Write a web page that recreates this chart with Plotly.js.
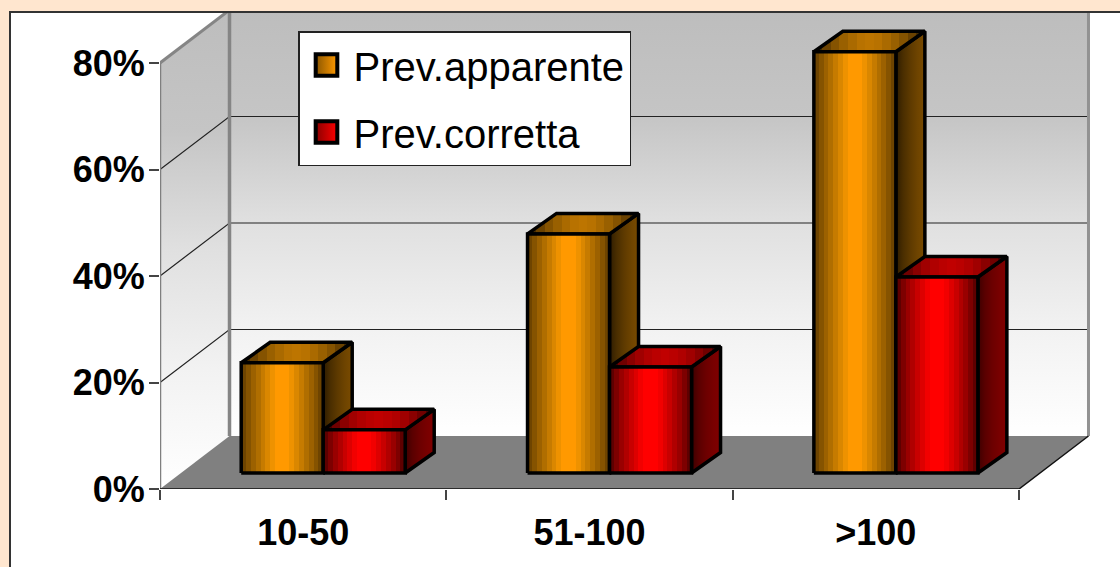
<!DOCTYPE html>
<html><head><meta charset="utf-8">
<script src="https://cdn.plot.ly/plotly-3.0.1.min.js"></script>
<style>html,body{margin:0;padding:0;background:#FFE6CF}</style></head>
<body><div id="chart" style="width:1120px;height:567px"></div>
<script>
// ---- data ----
var categories = ['10-50', '51-100', '>100'];
var prevApparente = [20.7, 44.9, 79.1];
var prevCorretta = [8.1, 19.9, 36.8];
var yTicks = [0, 20, 40, 60, 80];
var yTickLabels = ['0%', '20%', '40%', '60%', '80%'];
var names = ['Prev.apparente', 'Prev.corretta'];

// ---- pixel geometry of the plot ----
var W = 1120, H = 567;
var L = 160, R = 1095, T = 13, B = 489;
var pxPerCat = 286.33, pxPerPct = 5.325;
var xMax = (R - L) / pxPerCat, yMax = (B - T) / pxPerPct;
var wallDx = 69.5 / pxPerCat, wallDy = 53 / pxPerPct;   // depth of the floor
var barDx = 29 / pxPerCat, barDy = 20.5 / pxPerPct;     // depth of a bar
var barW = 82 / pxPerCat;
var barBase = 16 / pxPerPct, barShift = 0.07;

function bands(cols) {            // symmetric stepped gradient, edge to centre to edge
  var list = cols.concat(cols.slice(0, -1).reverse()), n = list.length, out = [];
  list.forEach(function (c, i) { out.push([i / n, c]); out.push([(i + 1) / n, c]); });
  return out;
}
var orangeBands = ['#6e4400', '#855300', '#9c6100', '#b06e00', '#c67b00', '#da8700', '#ee9200', '#ff9900', '#ff9900'];
var redBands = ['#5e0000', '#7d0000', '#990000', '#b00000', '#c80000', '#dd0000', '#f20000', '#ff0000', '#ff0000'];
var orangeTop = ['#4a2e00', '#6b4200', '#855300', '#996000', '#aa6a00', '#b87200', '#bd7500'];
var redTop = ['#480000', '#700000', '#8a0000', '#a00000', '#b00000', '#ba0000', '#c00000'];
var orangeSide = ['#2e1c00', '#4a2e00', '#5e3a00', '#6e4400', '#7a4b00'];
var redSide = ['#3d0000', '#5a0000', '#6c0000', '#780000', '#800000'];
var wallGrad = [[0, '#ffffff'], [0.25, '#f2f2f2'], [0.5, '#e0e0e0'], [0.75, '#c5c5c5'], [1, '#bdbdbd']];

var traces = [];
function poly(xs, ys, fill, lineColor, lineWidth) {
  var t = {type: 'scatter', mode: 'lines', x: xs.concat(xs[0]), y: ys.concat(ys[0]), fill: 'toself',
    showlegend: false, hoverinfo: 'skip', line: {color: lineColor || 'rgba(0,0,0,0)', width: lineWidth || 0, shape: 'linear'}};
  if (typeof fill === 'string') t.fillcolor = fill; else t.fillgradient = fill;
  traces.push(t);
}
function seg(xs, ys, color, width) {
  traces.push({type: 'scatter', mode: 'lines', x: xs, y: ys, showlegend: false, hoverinfo: 'skip',
    line: {color: color, width: width}});
}
var xEnd = categories.length;

// walls and floor
poly([wallDx, xEnd + wallDx, xEnd + wallDx, wallDx], [wallDy, wallDy, 80 + wallDy, 80 + wallDy],
  {type: 'vertical', colorscale: wallGrad});
poly([0, wallDx, wallDx, 0], [0, wallDy, 80 + wallDy, 80], {type: 'vertical', colorscale: wallGrad});
poly([0, wallDx, xEnd + wallDx, xEnd], [0, wallDy, wallDy, 0], '#808080');

// gridlines on the side wall and back wall
yTicks.slice(1, 4).forEach(function (v) {
  seg([0, wallDx, xEnd + wallDx], [v, v + wallDy, v + wallDy], '#222222', 1.2);
});
// wall edges
seg([0, 0], [0, 80], '#7f7f7f', 2.5);
seg([0, wallDx], [80, 80 + wallDy], '#858585', 3);
seg([wallDx, wallDx], [wallDy, 80 + wallDy], '#858585', 3.5);
seg([xEnd + wallDx, xEnd + wallDx], [wallDy, 80 + wallDy], '#929292', 3);
seg([0, xEnd, xEnd + wallDx], [0, 0, wallDy], '#111111', 1.5);

// 3D bars
function bar(x0, v, front, top, side) {
  var x1 = x0 + barW, y0 = barBase, y1 = barBase + v;
  poly([x1, x1 + barDx, x1 + barDx, x1], [y0, y0 + barDy, y1 + barDy, y1],
    {type: 'horizontal', colorscale: side.map(function (c, i) { return [i / (side.length - 1), c]; })}, '#000', 3.5);
  poly([x0, x1, x1 + barDx, x0 + barDx], [y1, y1, y1 + barDy, y1 + barDy],
    {type: 'horizontal', colorscale: bands(top)}, '#000', 3.5);
  poly([x0, x1, x1, x0], [y0, y0, y1, y1], {type: 'horizontal', colorscale: bands(front)}, '#000', 3.5);
}
categories.forEach(function (c, i) {
  var mid = i + 0.5 + barShift;
  bar(mid - barW, prevApparente[i], orangeBands, orangeTop, orangeSide);
  bar(mid, prevCorretta[i], redBands, redTop, redSide);
});

// legend entries
[['#8a5600', '#ff9900'], ['#8a0000', '#ff0000']].forEach(function (c, i) {
  traces.push({type: 'scatter', mode: 'markers', x: [null], y: [null], name: names[i], legendgroup: 'g' + i,
    hoverinfo: 'skip', marker: {symbol: 'square', size: 16, color: c[0], gradient: {type: 'horizontal', color: c[1]},
    line: {color: '#000', width: 3}}});
});

function px(x) { return (x - L) / (R - L); }
function py(y) { return (B - y) / (B - T); }

var layout = {
  width: W, height: H, autosize: false,
  margin: {l: L, r: W - R, t: T, b: H - B, pad: 0},
  paper_bgcolor: '#FFE6CF', plot_bgcolor: 'rgba(0,0,0,0)',
  font: {family: 'Liberation Sans, Arial, sans-serif', color: '#000'},
  showlegend: true,
  legend: {x: px(298), y: py(31), xanchor: 'left', yanchor: 'top', bgcolor: '#fff', bordercolor: '#222', borderwidth: 1.5,
    font: {size: 40}, itemwidth: 44, entrywidth: 286, entrywidthmode: 'pixels', traceorder: 'grouped', tracegroupgap: 12,
    itemclick: false, itemdoubleclick: false},
  xaxis: {range: [0, xMax], tickmode: 'array',
    tickvals: categories.map(function (c, i) { return i + 0.5; }), ticktext: categories,
    ticks: '', showgrid: false, zeroline: false, showline: false, fixedrange: true, ticklabelstandoff: 19,
    tickfont: {size: 36, family: 'Liberation Sans, Arial, sans-serif', weight: 'bold'},
    minor: {tickmode: 'array', tickvals: [0, 1, 2, 3], ticks: 'outside', ticklen: 10, tickwidth: 1.5, tickcolor: '#444', showgrid: false}},
  yaxis: {range: [0, yMax], tickmode: 'array', tickvals: yTicks, ticktext: yTickLabels,
    ticks: 'outside', ticklen: 10, tickwidth: 1.5, tickcolor: '#444', showgrid: false, zeroline: false, showline: false, fixedrange: true,
    ticklabelstandoff: -3,
    tickfont: {size: 36, family: 'Liberation Sans, Arial, sans-serif', weight: 'bold'}},
  shapes: [
    {type: 'rect', layer: 'below', xref: 'paper', yref: 'paper', x0: px(10), x1: px(1130), y0: py(12), y1: py(580),
      fillcolor: '#fff', line: {color: '#333', width: 2}},
    {type: 'line', layer: 'above', xref: 'paper', yref: 'paper', x0: px(10), x1: px(1120), y0: py(12), y1: py(12),
      line: {color: '#333', width: 2}}
  ]
};
Plotly.newPlot('chart', traces, layout, {displayModeBar: false}).then(function () {
  // the library caps legend markers at 16px; enlarge them to the reference's swatch size
  document.querySelectorAll('#chart .legendpoints path.scatterpts').forEach(function (p) {
    p.setAttribute('transform', (p.getAttribute('transform') || '') + ' scale(1.35)');
  });
});
</script></body></html>
